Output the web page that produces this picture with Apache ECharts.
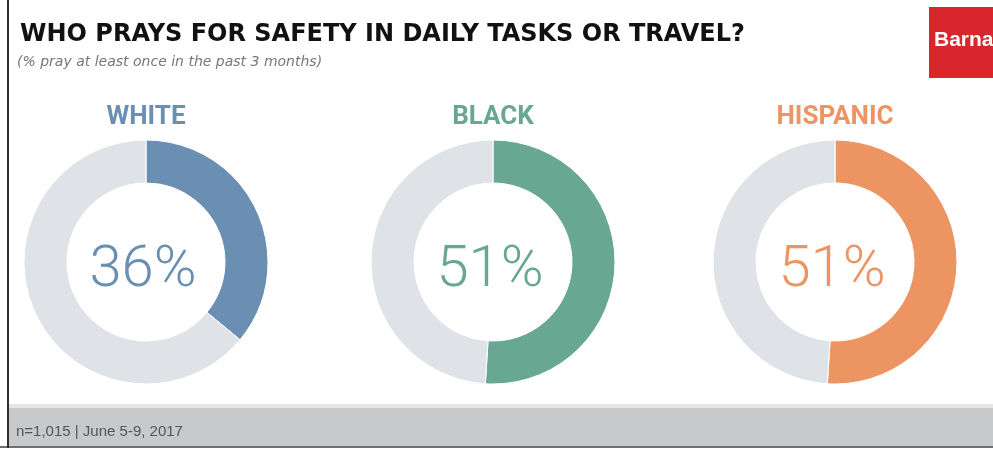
<!DOCTYPE html>
<html><head><meta charset="utf-8">
<script src="https://cdn.jsdelivr.net/npm/echarts@6/dist/echarts.min.js"></script>
<style>html,body{margin:0;padding:0;background:#fff}#c{width:993px;height:450px}</style>
</head><body><div id="c"></div>
<script>
const groups = ['WHITE', 'BLACK', 'HISPANIC'];
const prayPct = [36, 51, 51];
const groupColors = ['#6b8fb2', '#68a791', '#ec9563'];
const trackColor = '#dfe3e7';
const titleText = 'WHO PRAYS FOR SAFETY IN DAILY TASKS OR TRAVEL?';
const subtitleText = '(% pray at least once in the past 3 months)';
const footerText = 'n=1,015 | June 5-9, 2017';
const centersX = [146, 493, 835];

const chart = echarts.init(document.getElementById('c'), null, {renderer: 'canvas'});
const series = groups.map((g, i) => ({
  type: 'pie',
  center: [centersX[i], 262],
  radius: [79, 122],
  startAngle: 90,
  clockwise: true,
  silent: true,
  label: {show: false},
  labelLine: {show: false},
  itemStyle: {borderColor: '#fff', borderWidth: 1},
  data: [
    {name: g, value: prayPct[i], itemStyle: {color: groupColors[i]}},
    {name: 'other', value: 100 - prayPct[i], itemStyle: {color: trackColor}}
  ]
}));

const graphics = [
  {type: 'rect', shape: {x: 9, y: 408, width: 984, height: 38}, style: {fill: '#c8c9cb'}, z: 0},
  {type: 'rect', shape: {x: 9, y: 404, width: 984, height: 4}, style: {fill: '#e6e6e6'}, z: 0},
  {type: 'rect', shape: {x: 0, y: 446, width: 993, height: 2}, style: {fill: '#707070'}, z: 1},
  {type: 'rect', shape: {x: 7, y: 0, width: 2, height: 448}, style: {fill: '#303030'}, z: 1},
  {type: 'text', left: 16, top: 424, style: {text: footerText, fill: '#555', font: '15px "Liberation Sans", Arial, sans-serif'}, z: 2},
  {type: 'rect', shape: {x: 929, y: 7, width: 70, height: 71}, style: {fill: '#d9262c'}, z: 1},
  {type: 'text', x: 934, y: 40, style: {text: 'Barna', fill: '#fff', font: 'bold 21px "Liberation Sans", Arial, sans-serif', verticalAlign: 'middle'}, z: 2},
  {type: 'text', x: 17, y: 62, style: {text: subtitleText, fill: '#777', font: 'italic 14px "DejaVu Sans", sans-serif', verticalAlign: 'middle'}, z: 2}
];
groups.forEach((g, i) => {
  graphics.push({type: 'text', x: centersX[i], y: 117, style: {text: g, fill: groupColors[i], font: 'bold 26px Roboto, sans-serif', align: 'center', verticalAlign: 'middle'}, z: 2});
  graphics.push({type: 'text', x: centersX[i] - 3, y: 271, style: {text: prayPct[i] + '%', fill: groupColors[i], font: '300 58px Roboto, sans-serif', align: 'center', verticalAlign: 'middle'}, z: 2});
});

chart.setOption({
  animation: false,
  title: {
    text: titleText,
    left: 15, top: 18,
    textStyle: {fontFamily: '"DejaVu Sans", sans-serif', fontWeight: 'bold', fontSize: 24, color: '#111'}
  },
  series: series,
  graphic: graphics
});
</script></body></html>
